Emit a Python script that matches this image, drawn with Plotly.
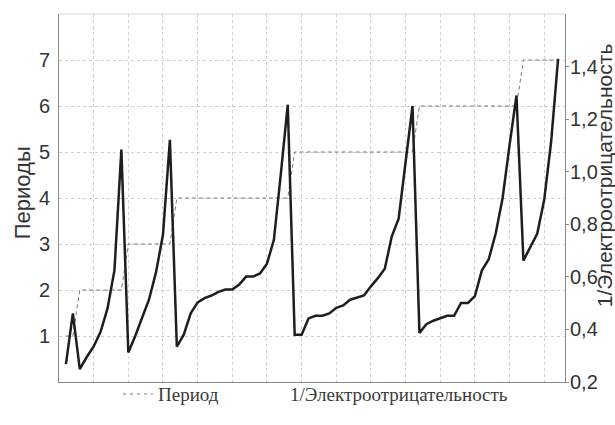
import plotly.graph_objects as go

# Element index along the x axis (categories)
element_index = list(range(1, 73))

# Period of each element (left axis)
periods = [1, 1,
           2, 2, 2, 2, 2, 2, 2,
           3, 3, 3, 3, 3, 3, 3,
           4, 4, 4, 4, 4, 4, 4, 4, 4, 4, 4, 4, 4, 4, 4, 4, 4,
           5, 5, 5, 5, 5, 5, 5, 5, 5, 5, 5, 5, 5, 5, 5, 5, 5, 5,
           6, 6, 6, 6, 6, 6, 6, 6, 6, 6, 6, 6, 6, 6, 6,
           7, 7, 7, 7, 7, 7]

# 1/Electronegativity (right axis)
inv_electronegativity = [
    0.268, 0.461,
    0.249, 0.295, 0.335, 0.391, 0.480, 0.625, 1.084,
    0.312, 0.375, 0.442, 0.515, 0.618, 0.760, 1.121,
    0.335, 0.380, 0.461, 0.503, 0.519, 0.529, 0.543, 0.552, 0.552,
    0.571, 0.601, 0.601, 0.613, 0.650, 0.741, 0.991, 1.255,
    0.380, 0.380, 0.442, 0.452, 0.452, 0.461, 0.482, 0.491, 0.513,
    0.522, 0.529, 0.564, 0.595, 0.631, 0.753, 0.821, 1.047, 1.250,
    0.387, 0.420, 0.433, 0.442, 0.452, 0.452, 0.501, 0.501, 0.527,
    0.624, 0.667, 0.765, 0.900, 1.101, 1.290,
    0.662, 0.716, 0.765, 0.893, 1.114, 1.429,
]

left_ticks = [1, 2, 3, 4, 5, 6, 7]
right_ticks = [0.2, 0.4, 0.6, 0.8, 1.0, 1.2, 1.4]
x_ticks = [5, 10, 15, 20, 25, 30, 35, 40, 45, 50, 55, 60, 65, 70]

fig = go.Figure()

fig.add_trace(go.Scatter(
    x=element_index, y=periods, mode="lines", yaxis="y",
    line=dict(color="#7a7a7a", width=1, dash="4px,3px"),
    showlegend=False, hoverinfo="skip"))

fig.add_trace(go.Scatter(
    x=element_index, y=inv_electronegativity, mode="lines", yaxis="y2",
    line=dict(color="#1e1e1e", width=2.5),
    showlegend=False))

# legend entries
fig.add_trace(go.Scatter(
    x=[None], y=[None], mode="lines", name="Период", legend="legend",
    line=dict(color="#7a7a7a", width=1, dash="3px,4px")))
fig.add_trace(go.Scatter(
    x=[None], y=[None], mode="lines", name="1/Электроотрицательность", legend="legend2",
    line=dict(color="rgba(0,0,0,0)", width=1)))

grid_color = "#cfcfcf"
axis_color = "#8a8a8a"
tick_font = dict(family="Liberation Sans, Arial, sans-serif", size=20, color="#333333")
legend_font = dict(family="Liberation Serif, Times New Roman, serif", size=19, color="#3a3a3a")

fig.update_layout(
    width=615, height=425,
    margin=dict(l=59, r=50, t=14, b=29),
    paper_bgcolor="white", plot_bgcolor="white",
    separators=", ",
    showlegend=True,
    legend=dict(orientation="h", x=0.1166, xanchor="left", y=-0.033, yanchor="middle",
                font=legend_font, bgcolor="rgba(0,0,0,0)", itemwidth=30),
    legend2=dict(orientation="h", x=0.3775, xanchor="left", y=-0.033, yanchor="middle",
                 font=legend_font, bgcolor="rgba(0,0,0,0)", itemwidth=30),
    xaxis=dict(range=[0, 73], tickvals=x_ticks, showticklabels=False,
               showgrid=True, gridcolor=grid_color, griddash="dot", gridwidth=1,
               showline=True, linecolor=axis_color, linewidth=1,
               ticks="", zeroline=False),
    yaxis=dict(range=[0, 8], tickvals=left_ticks, tickfont=tick_font,
               showgrid=True, gridcolor=grid_color, griddash="dot", gridwidth=1,
               showline=True, linecolor=axis_color, linewidth=1,
               ticks="", ticklabelstandoff=4, zeroline=False),
    yaxis2=dict(range=[0.2, 1.6], tickvals=right_ticks, tickformat=".1f",
                tickfont=tick_font, overlaying="y", side="right",
                showgrid=False, showline=True, linecolor=axis_color, linewidth=1,
                ticks="outside", ticklen=3, tickcolor=axis_color, zeroline=False,
                ticklabelstandoff=-3),
    shapes=[dict(type="line", xref="paper", yref="paper", x0=0, x1=1, y0=1, y1=1,
                 line=dict(color="#d8d8d8", width=1))],
    annotations=[
        dict(text="Периоды", xref="paper", yref="paper", x=-0.073, y=0.513,
             xanchor="center", yanchor="middle", textangle=-90, showarrow=False,
             font=dict(family="Liberation Sans, Arial, sans-serif", size=22, color="#333333")),
        dict(text="1/Электроотрицательность", xref="paper", yref="paper", x=1.078, y=0.563,
             xanchor="center", yanchor="middle", textangle=-90, showarrow=False,
             font=dict(family="Liberation Sans, Arial, sans-serif", size=21, color="#333333")),
    ],
)

fig.write_html(
    "out.html",
    config={"displayModeBar": False},
    post_script="document.documentElement.style.margin='0';document.body.style.margin='0';"
                "document.body.style.overflow='hidden';",
)
